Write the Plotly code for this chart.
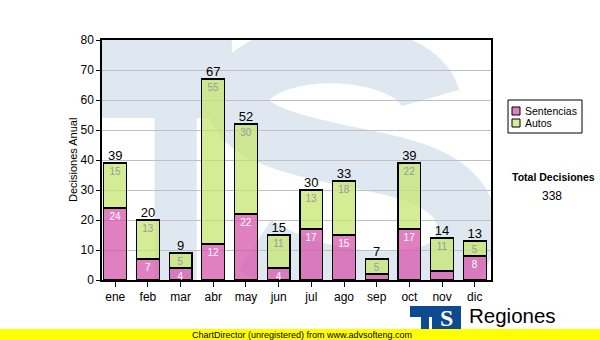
import plotly.graph_objects as go

months = ["ene", "feb", "mar", "abr", "may", "jun", "jul", "ago", "sep", "oct", "nov", "dic"]
sentencias = [24, 7, 4, 12, 22, 4, 17, 15, 2, 17, 3, 8]
autos = [15, 13, 5, 55, 30, 11, 13, 18, 5, 22, 11, 5]
totals = [s + a for s, a in zip(sentencias, autos)]
grand_total = sum(totals)

series_names = ["Sentencias", "Autos"]
series_colors = ["rgba(214,86,171,0.75)", "rgba(198,230,112,0.75)"]
legend_colors = ["#e07fc4", "#d6ee9a"]

W, H = 600, 340
L, R, T, B = 102, 491, 40, 280  # plot area in pixels

FONT = "Liberation Sans"

# pixel -> paper helpers (decoration only)
def px(p):
    return (p - L) / (R - L)

def py(p):
    return (B - p) / (B - T)

# pixel -> data helpers for watermark (clipped to plot area)
C0, DX = 115.7, 32.6
def dxp(p):
    return (p - C0) / DX

def dyp(p):
    return (B - p) / 3.0

def lbl(vals, minv=4):
    return [str(v) if v >= minv else "" for v in vals]

fig = go.Figure()

fig.add_trace(go.Bar(
    x=months, y=sentencias, name=series_names[0],
    marker=dict(color=series_colors[0], line=dict(color="black", width=1.2)),
    text=lbl(sentencias), textposition="inside", insidetextanchor="end",
    textangle=0, constraintext="none",
    textfont=dict(color="white", size=10, family=FONT),
    width=0.7, hoverinfo="skip", showlegend=False,
))
fig.add_trace(go.Bar(
    x=months, y=autos, name=series_names[1],
    marker=dict(color=series_colors[1], line=dict(color="black", width=1.2)),
    text=lbl(autos), textposition="inside", insidetextanchor="end",
    textangle=0, constraintext="none",
    textfont=dict(color="#9a9a9a", size=10, family=FONT),
    width=0.7, hoverinfo="skip", showlegend=False,
))
fig.add_trace(go.Scatter(
    x=months, y=totals, mode="text", text=[str(t) for t in totals],
    textposition="top center", textfont=dict(color="black", size=13, family=FONT),
    showlegend=False, hoverinfo="skip",
))

WM = "#dfe8f1"
shapes = [
    # watermark "T"
    dict(type="rect", xref="x", yref="y", x0=dxp(80), x1=dxp(232), y0=dyp(118), y1=dyp(30),
         fillcolor=WM, line=dict(width=0), layer="below"),
    dict(type="rect", xref="x", yref="y", x0=dxp(155), x1=dxp(197), y0=dyp(290), y1=dyp(30),
         fillcolor=WM, line=dict(width=0), layer="below"),
]
# watermark "S" as thick stroke
pts = [(430, 98), (415, 45), (270, 35), (240, 90), (220, 140), (330, 150), (400, 168),
       (475, 188), (475, 230), (455, 262), (420, 292), (320, 287), (255, 245)]
path = "M {},{} ".format(dxp(pts[0][0]), dyp(pts[0][1]))
for i in range(1, len(pts), 3):
    a, b, c = pts[i], pts[i + 1], pts[i + 2]
    path += "C {},{} {},{} {},{} ".format(dxp(a[0]), dyp(a[1]), dxp(b[0]), dyp(b[1]), dxp(c[0]), dyp(c[1]))
shapes.append(dict(type="path", xref="x", yref="y", path=path, fillcolor="rgba(0,0,0,0)",
                   line=dict(color=WM, width=60), layer="below"))

# manual legend box
shapes.append(dict(type="rect", xref="paper", yref="paper", x0=px(508), x1=px(582),
                   y0=py(133), y1=py(100), fillcolor="white", line=dict(color="black", width=1)))
for i, col in enumerate(legend_colors):
    yc = 111 + 12 * i
    shapes.append(dict(type="rect", xref="paper", yref="paper", x0=px(512), x1=px(520),
                       y0=py(yc + 4), y1=py(yc - 4), fillcolor=col, line=dict(color="black", width=1)))

# logo at bottom right
shapes += [
    dict(type="rect", xref="paper", yref="paper", x0=px(410), x1=px(461), y0=py(340), y1=py(306),
         fillcolor="#0d4a8f", line=dict(width=0)),
    dict(type="rect", xref="paper", yref="paper", x0=px(410), x1=px(421), y0=py(340), y1=py(317),
         fillcolor="white", line=dict(width=0)),
    dict(type="rect", xref="paper", yref="paper", x0=px(429), x1=px(432), y0=py(340), y1=py(317),
         fillcolor="white", line=dict(width=0)),
    # yellow banner
    dict(type="rect", xref="paper", yref="paper", x0=px(0), x1=px(600), y0=py(340), y1=py(329),
         fillcolor="#ffff00", line=dict(width=0)),
]

annotations = [
    dict(text="Decisiones Anual", textangle=-90, x=px(73), y=py(160), xref="paper", yref="paper",
         showarrow=False, font=dict(size=11, color="black", family=FONT), xanchor="center", yanchor="middle"),
    dict(text="<b>Total Decisiones</b>", x=px(553), y=py(177), xref="paper", yref="paper",
         showarrow=False, font=dict(size=10.5, color="black", family=FONT), xanchor="center", yanchor="middle"),
    dict(text=str(grand_total), x=px(552), y=py(196), xref="paper", yref="paper",
         showarrow=False, font=dict(size=12, color="black", family=FONT), xanchor="center", yanchor="middle"),
    dict(text="<b>S</b>", x=px(446), y=py(318), xref="paper", yref="paper",
         showarrow=False, font=dict(size=24, color="white", family="Liberation Serif"),
         xanchor="center", yanchor="middle", borderpad=0),
    dict(text="Regiones", x=px(467), y=py(315), xref="paper", yref="paper",
         showarrow=False, font=dict(size=20.5, color="black", family=FONT), xanchor="left", yanchor="middle"),
    dict(text="ChartDirector (unregistered) from www.advsofteng.com", x=px(190), y=py(334.5),
         xref="paper", yref="paper", showarrow=False,
         font=dict(size=9, color="black", family=FONT), xanchor="left", yanchor="middle"),
]
for i, name in enumerate(series_names):
    annotations.append(dict(text=name, x=px(524), y=py(111 + 12 * i), xref="paper", yref="paper",
                            showarrow=False, font=dict(size=10.5, color="black", family=FONT),
                            xanchor="left", yanchor="middle", borderpad=0))

fig.update_layout(
    width=W, height=H,
    margin=dict(l=L, r=W - R, t=T, b=H - B, pad=0, autoexpand=False),
    paper_bgcolor="white", plot_bgcolor="white",
    barmode="stack", bargap=0.3,
    showlegend=False,
    shapes=shapes, annotations=annotations,
    xaxis=dict(range=[dxp(102.5), dxp(490.5)], showgrid=False, showline=True, linecolor="black",
               linewidth=1.5, mirror=True, ticks="outside", ticklen=5, tickcolor="black",
               tickfont=dict(size=12, color="black", family=FONT)),
    yaxis=dict(range=[0, 80], dtick=10, showgrid=True, gridcolor="#c0c0c0", gridwidth=1,
               showline=True, linecolor="black", linewidth=1.5, mirror=True, ticks="outside",
               ticklen=4, tickcolor="black", zeroline=False,
               tickfont=dict(size=12, color="black", family=FONT)),
)

fig.write_html("out.html")
